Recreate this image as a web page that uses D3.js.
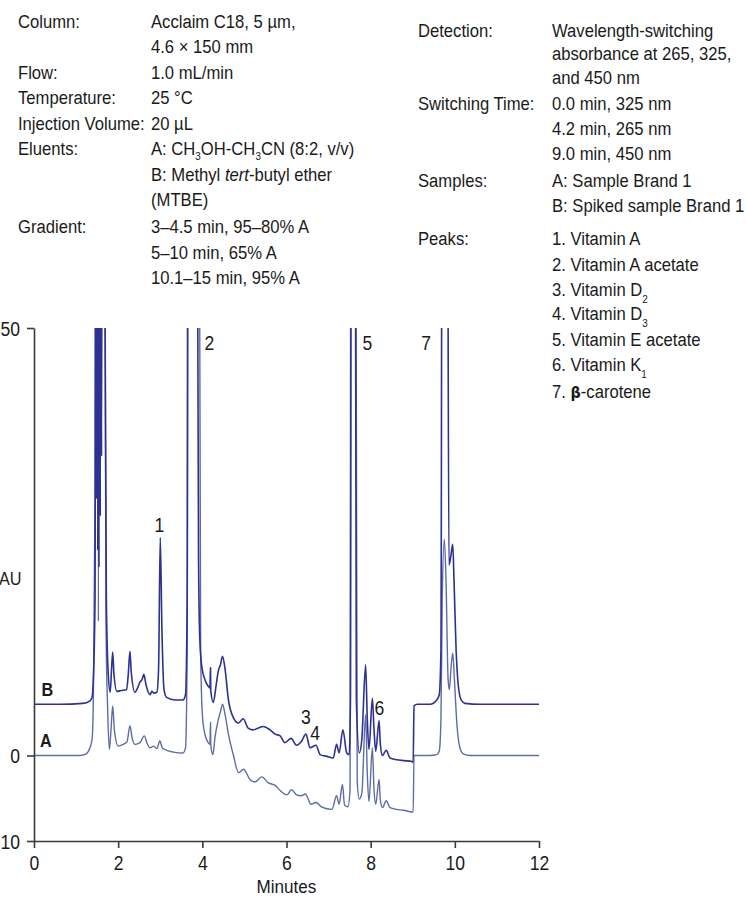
<!DOCTYPE html>
<html><head><meta charset="utf-8">
<script src="https://cdn.jsdelivr.net/npm/d3@7"></script>
<style>
body{margin:0;background:#fff}
svg{display:block}
text{font-family:"Liberation Sans",Arial,sans-serif;fill:#1a1a1a}
</style>
</head><body>
<svg id="chart" width="746" height="899"></svg>
<script>
// ---------- data ----------
const timeB = [0,0.62,1.16,1.33,1.38,1.41,1.45,1.47,1.485,1.50,1.515,1.53,1.545,1.56,1.575,1.59,1.605,1.62,1.64,1.69,1.72,1.76,1.81,1.84,1.87,1.90,1.97,2.07,2.20,2.24,2.28,2.31,2.40,2.47,2.52,2.57,2.61,2.66,2.76,2.80,2.85,2.92,2.96,3.00,3.04,3.09,3.15,3.35,3.54,3.60,3.64,3.66,3.87,3.91,3.94,3.99,4.06,4.14,4.18,4.195,4.20,4.26,4.33,4.38,4.43,4.48,4.54,4.62,4.74,4.86,4.97,5.09,5.21,5.32,5.45,5.61,5.73,5.85,5.96,6.11,6.24,6.35,6.46,6.56,6.70,6.80,6.96,7.11,7.19,7.25,7.34,7.43,7.49,7.52,7.54,7.63,7.66,7.73,7.79,7.88,7.92,7.96,8.04,8.08,8.12,8.20,8.23,8.28,8.37,8.46,8.62,8.79,8.98,9.01,9.03,9.11,9.41,9.57,9.63,9.67,9.70,9.82,9.86,9.88,9.91,9.95,9.98,10.03,10.08,10.15,10.24,10.60,12];
const valB  = [6.0,6.0,6.1,6.4,6.8,8.9,18.2,80,30,80,24,80,22,80,28,80,35,80,80,50,18.2,10,7.4,9.8,12.1,9.5,7.5,7.6,7.7,9.5,12.2,9.8,7.4,8.0,8.6,8.9,9.5,8.3,7.1,7.5,7.3,7.4,10.1,25.5,14.7,7.7,6.8,6.5,6.5,7.1,18.2,80,80,22.9,13.6,10.3,8.9,8.1,7.9,10.3,7.6,6.2,8.3,9.9,10.6,11.6,10.1,6.5,4.4,3.8,4.3,3.2,3.0,3.2,3.4,3.0,2.5,2.3,1.5,2.0,1.2,1.6,2.5,0.9,1.2,0.1,-0.1,-0.3,1.3,0.3,3.0,0.3,0.1,6.5,80,80,6.5,0.3,1.9,10.6,4.2,0.7,6.7,3.0,0.5,4.1,1.3,0.0,0.6,-0.3,-0.5,-0.6,-0.7,-0.8,5.8,6.0,6.0,6.5,7.1,12.4,80,80,22.3,22.6,23.5,24.7,20.6,12.4,8.3,6.5,6.1,6.0,6.0];

const timeA = [0,1.09,1.24,1.33,1.38,1.41,1.45,1.47,1.52,1.53,1.545,1.64,1.675,1.71,1.75,1.79,1.83,1.87,1.91,2.00,2.12,2.21,2.28,2.33,2.40,2.52,2.62,2.69,2.76,2.84,2.92,2.99,3.05,3.11,3.31,3.54,3.60,3.64,3.66,3.92,3.96,4.00,4.06,4.14,4.18,4.195,4.20,4.25,4.30,4.38,4.43,4.48,4.54,4.62,4.74,4.86,4.98,5.13,5.25,5.41,5.57,5.73,5.85,6.01,6.12,6.24,6.35,6.45,6.58,6.70,6.83,7.08,7.19,7.25,7.33,7.38,7.46,7.51,7.53,7.64,7.68,7.73,7.79,7.88,7.92,7.96,8.04,8.08,8.12,8.20,8.23,8.28,8.37,8.46,8.62,8.79,8.98,9.01,9.03,9.11,9.41,9.57,9.63,9.67,9.70,9.75,9.79,9.84,9.87,9.91,9.95,9.99,10.05,10.12,10.20,10.36,12];
const valA  = [0,0,0.2,0.9,1.9,6.5,30,80,80,15.7,80,80,80,15.9,5.4,0.7,3.0,5.8,3.0,1.1,1.3,1.6,3.5,2.1,1.3,1.5,2.3,1.4,0.9,1.1,0.8,1.7,0.9,0.7,0.4,0.3,0.9,12.4,80,80,12.4,4.8,2.5,1.5,1.3,3.9,1.3,0.1,2.1,4.2,5.1,6.0,4.8,2.5,0,-2.0,-1.6,-2.8,-3.1,-2.5,-3.2,-3.5,-4.1,-4.6,-4.0,-4.6,-4.7,-4.5,-5.7,-5.5,-6.0,-6.3,-4.7,-5.7,-3.4,-5.8,-6.0,-4.0,80,80,-3.0,-5.1,-4.4,4.8,-2.2,-5.4,0.9,-4.0,-5.7,-2.8,-5.2,-6.1,-5.3,-6.1,-6.3,-6.4,-6.6,-6.6,0,0,0,0.1,0.5,4.2,18.2,25.3,20.6,8.9,7.7,10.3,12.0,8.9,3.6,0.9,0.2,0,0];

const xTicks = [0,2,4,6,8,10,12];
const yTicks = [-10,0,50];
const yTickLabels = ["10","0","50"];   // as visible in the picture (left edge is cropped)
const xTitle = "Minutes";
const yTitle = "AU";                    // as visible in the picture

const sampleNames = ["B","A"];
const sampleTime  = [0.32,0.28];
const sampleVal   = [7.7,1.75];

const peakNames = ["1","2","3","4","5","6","7"];
const peakTime  = [2.98,4.17,6.46,6.68,7.92,8.21,9.32];
const peakVal   = [27.0,48.3,4.5,2.6,48.2,5.5,48.2];

const leftLabels = ["Column:","","Flow:","Temperature:","Injection Volume:","Eluents:","","","Gradient:","",""];
const leftValues = ["Acclaim C18, 5 µm,","4.6 × 150 mm","1.0 mL/min","25 °C","20 µL","A: CH_3OH-CH_3CN (8:2, v/v)","B: Methyl *tert*-butyl ether","(MTBE)","3–4.5 min, 95–80% A","5–10 min, 65% A","10.1–15 min, 95% A"];
const rightLabels = ["Detection:","","","Switching Time:","","","Samples:","","Peaks:","","","","","",""];
const rightValues = ["Wavelength-switching","absorbance at 265, 325,","and 450 nm","0.0 min, 325 nm","4.2 min, 265 nm","9.0 min, 450 nm","A: Sample Brand 1","B: Spiked sample Brand 1","1. Vitamin A","2. Vitamin A acetate","3. Vitamin D_2","4. Vitamin D_3","5. Vitamin E acetate","6. Vitamin K_1","7. [β]-carotene"];

// ---------- layout ----------
const svg = d3.select("#chart");
const x = d3.scaleLinear().domain([0,12]).range([34,539]);
const y = d3.scaleLinear().domain([-10,50]).range([841,328]);
const FS = 18.5;
const SX = 0.9;   // horizontal condensing of the text

const colB = "#2d3191", colA = "#5d6ca6";

svg.append("defs").append("clipPath").attr("id","plotclip")
  .append("rect").attr("x",x(0)).attr("y",y(50)).attr("width",x(12)-x(0)).attr("height",y(-10)-y(50));

const line = d3.line().x(d=>x(d[0])).y(d=>y(d[1])).curve(d3.curveMonotoneX);
const dataA = timeA.map((t,i)=>[t,valA[i]]);
const dataB = timeB.map((t,i)=>[t,valB[i]]);
const g = svg.append("g").attr("clip-path","url(#plotclip)");
g.append("path").attr("d",line(dataA)).attr("fill","none").attr("stroke",colA).attr("stroke-width",1.4).attr("stroke-linejoin","round");
g.append("path").attr("d",line(dataB)).attr("fill","none").attr("stroke",colB).attr("stroke-width",1.6).attr("stroke-linejoin","round");

// axes
const axCol = "#3a3a3a";
const yAxis = svg.append("g").attr("transform",`translate(${x(0)},0)`)
  .call(d3.axisLeft(y).tickValues(yTicks).tickFormat((d,i)=>yTickLabels[i]).tickSize(7).tickPadding(7).tickSizeOuter(0));
const xAxis = svg.append("g").attr("transform",`translate(0,${y(-10)})`)
  .call(d3.axisBottom(x).tickValues(xTicks).tickSize(7).tickPadding(8).tickSizeOuter(0));
[xAxis,yAxis].forEach(a=>{
  a.selectAll("path,line").attr("stroke",axCol).attr("stroke-width",1.6);
  a.selectAll("text").attr("font-size",19.5).attr("font-family",null).attr("fill","#1a1a1a");
});
yAxis.selectAll("text").attr("dy","0.36em");
svg.append("text").attr("x",(x(0)+x(12))/2).attr("y",893).attr("text-anchor","middle").attr("font-size",19).text(xTitle);
svg.append("text").attr("x",21.5).attr("y",585).attr("text-anchor","end").attr("font-size",18).text(yTitle);

sampleNames.forEach((s,i)=>{
  svg.append("text").attr("x",x(sampleTime[i])).attr("y",y(sampleVal[i])).attr("dy","0.36em")
    .attr("text-anchor","middle").attr("font-size",18).attr("font-weight","bold").text(s);
});
peakNames.forEach((s,i)=>{
  svg.append("text").attr("x",x(peakTime[i])).attr("y",y(peakVal[i])).attr("dy","0.36em")
    .attr("text-anchor","middle").attr("font-size",19.5).text(s);
});

// info text
function segs(s){
  const out=[]; const re=/_(\d)|\*([^*]+)\*|\[([^\]]+)\]/g; let last=0,m;
  while((m=re.exec(s))){
    if(m.index>last) out.push({t:s.slice(last,m.index)});
    if(m[1]) out.push({t:m[1],sub:true});
    else if(m[2]) out.push({t:m[2],it:true});
    else out.push({t:m[3],b:true});
    last=re.lastIndex;
  }
  if(last<s.length) out.push({t:s.slice(last)});
  return out;
}
function richText(xp,yp,str,subShift){
  const t = svg.append("text").attr("x",xp).attr("y",yp).attr("font-size",FS);
  let shifted=false;
  segs(str).forEach(sg=>{
    const ts=t.append("tspan").text(sg.t);
    if(sg.sub){ts.attr("font-size",11).attr("dy",subShift); shifted=true;}
    else if(shifted){ts.attr("dy",-subShift); shifted=false;}
    if(sg.it) ts.attr("font-style","italic");
    if(sg.b) ts.attr("font-weight","bold").attr("font-family","'DejaVu Sans',sans-serif").attr("font-size",16);
  });
}
const leftBase = [28,53,79,104,130,155,181,206,233,259,284];
const rightBase = [37,60,84,110,135,160,187,212,245,271,296,320,346,371,398];
leftLabels.forEach((l,i)=>{ if(l) richText(18,leftBase[i],l,0); richText(151,leftBase[i],leftValues[i],5); });
rightLabels.forEach((l,i)=>{ if(l) richText(418,rightBase[i],l,0); richText(552,rightBase[i],rightValues[i],7); });

// condense every text horizontally about its anchor point
svg.selectAll("text").each(function(){
  const xa = +(this.getAttribute("x")||0), ya = +(this.getAttribute("y")||0);
  this.setAttribute("transform",`translate(${xa},${ya}) scale(${SX},1) translate(${-xa},${-ya})`);
});
</script>
</body></html>
